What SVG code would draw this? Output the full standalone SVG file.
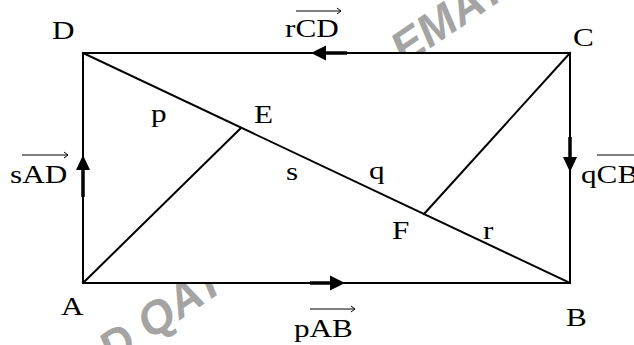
<svg xmlns="http://www.w3.org/2000/svg" width="634" height="345" viewBox="0 0 634 345">
<style>
.lbl{font-family:"Liberation Serif","Times New Roman",serif;font-size:26px;fill:#000}
.wm{font-family:"Liberation Sans",Arial,sans-serif;font-weight:bold;font-style:italic;font-size:46px;fill:#a4a4a4}
.edge{stroke:#000;stroke-width:2;fill:none;stroke-linecap:square}
.stem{stroke:#000;stroke-width:3.5;fill:none}
.head{fill:#000;stroke:none}
.va{stroke:#000;stroke-width:1;fill:none}
</style>
<rect width="634" height="345" fill="#fff"/>
<g id="watermark">
<text class="wm" transform="translate(112 366) rotate(-34)">D QAT</text>
<text class="wm" transform="translate(404 66) rotate(-34)">EMAT</text>
</g>
<rect x="84" y="54" width="485" height="228" fill="#fff"/>
<g id="connectors">
<path class="edge" d="M83 53 H570 V283 H83 Z"/>
<path class="edge" d="M83 53 L570 283"/>
<path class="edge" d="M83 283 L241 128"/>
<path class="edge" d="M570 53 L424 214"/>
<path class="stem" d="M326 53 H347"/>
<polygon class="head" points="311,53 326,45.5 326,60.5"/>
<path class="stem" d="M83 170 V197"/>
<polygon class="head" points="83,155 76,170 90,170"/>
<path class="stem" d="M570 137 V157"/>
<polygon class="head" points="570,172 563,157 577,157"/>
<path class="stem" d="M310 283 H330"/>
<polygon class="head" points="345,283 330,275.5 330,290.5"/>
</g>
<g id="node-D"><text class="lbl" transform="matrix(1.2 0 0 1 52 39)">D</text></g>
<g id="node-C"><text class="lbl" transform="matrix(1.2 0 0 1 573 46)">C</text></g>
<g id="node-A"><text class="lbl" transform="matrix(1.2 0 0 1 61 315)">A</text></g>
<g id="node-B"><text class="lbl" transform="matrix(1.2 0 0 1 566 326)">B</text></g>
<g id="node-E"><text class="lbl" transform="matrix(1.2 0 0 1 254 123)">E</text></g>
<g id="node-F"><text class="lbl" transform="matrix(1.2 0 0 1 392 239)">F</text></g>
<g id="labels">
<text class="lbl" transform="matrix(1.2 0 0 1 151 122)">p</text>
<text class="lbl" transform="matrix(1.2 0 0 1 286 180)">s</text>
<text class="lbl" transform="matrix(1.2 0 0 1 369 179)">q</text>
<text class="lbl" transform="matrix(1.2 0 0 1 483 239)">r</text>
<text class="lbl" transform="matrix(1.2 0 0 1 285 37)">rCD</text>
<path class="va" d="M296 11 H341 M337 8 L341 11 L337 14"/>
<text class="lbl" transform="matrix(1.2 0 0 1 10 183)">sAD</text>
<path class="va" d="M22 155 H68 M64 152 L68 155 L64 158"/>
<text class="lbl" transform="matrix(1.2 0 0 1 581 183)">qCB</text>
<path class="va" d="M597 155 H642"/>
<text class="lbl" transform="matrix(1.2 0 0 1 294 337)">pAB</text>
<path class="va" d="M310 309 H355 M351 306 L355 309 L351 312"/>
</g>
</svg>
